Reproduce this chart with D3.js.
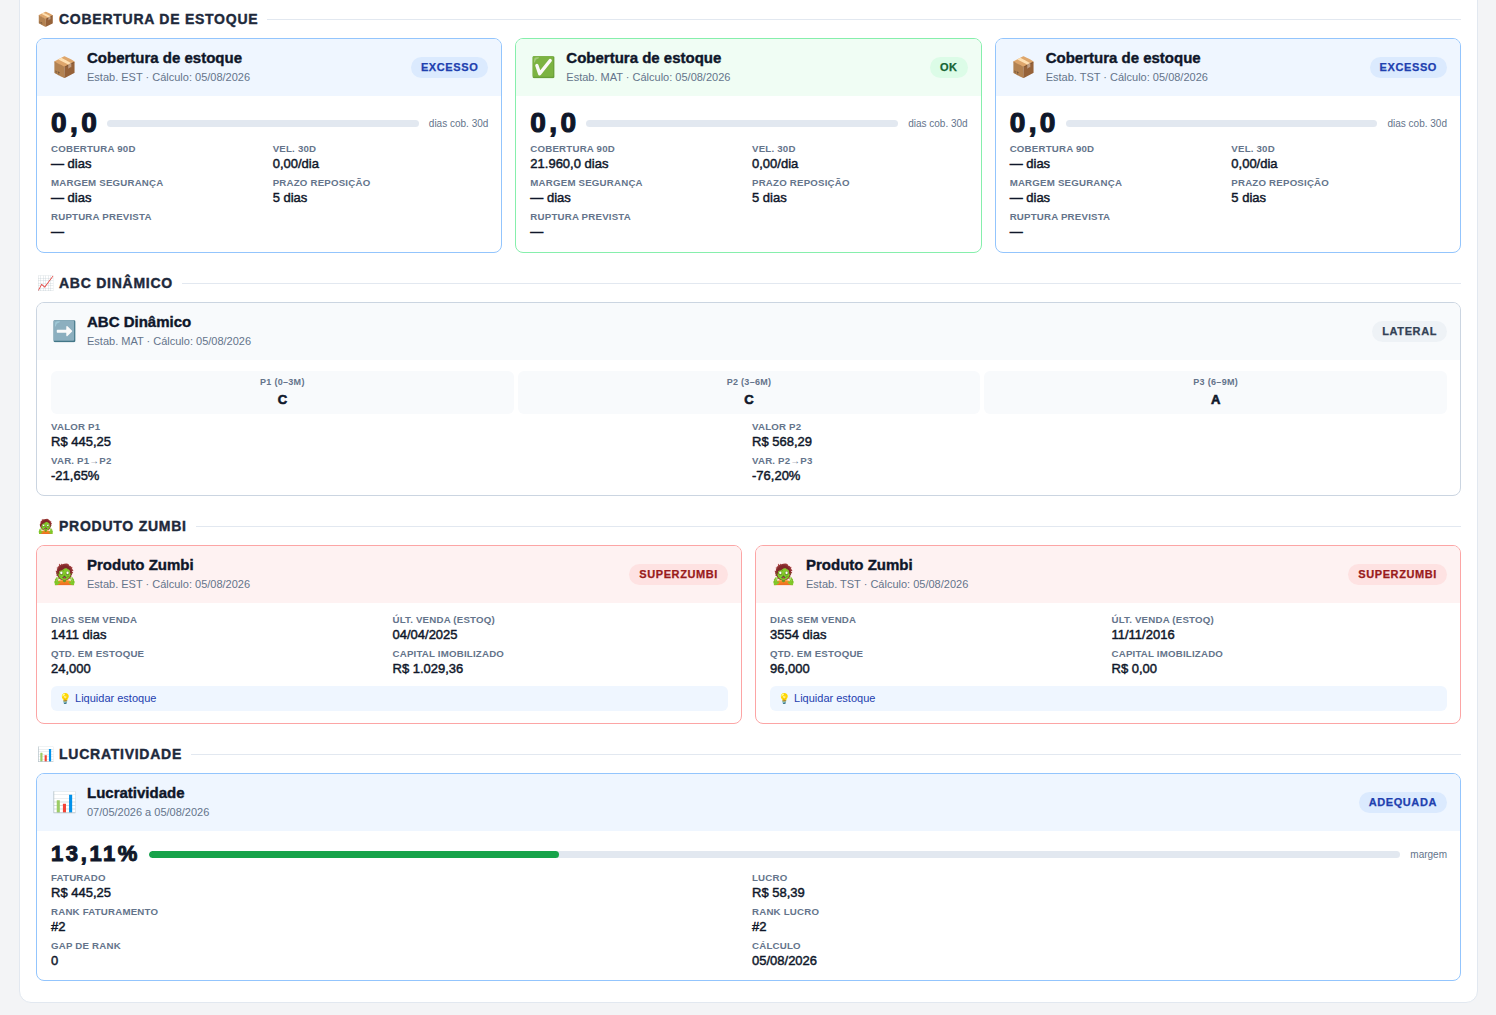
<!DOCTYPE html>
<html lang="pt-BR">
<head>
<meta charset="utf-8">
<title>Indicadores</title>
<script src="https://cdn.jsdelivr.net/npm/d3@7"></script>
<style>
  body { margin: 0; background: #f3f4f6; font-family: "Liberation Sans", Arial, sans-serif; color: #0f172a; }
  .wrap { position: absolute; left: 19px; top: -20px; width: 1459px; box-sizing: border-box; background: #fff;
          border: 1px solid #e2e8f0; border-radius: 12px; padding: 28px 16px 21px; }
  .section { margin-bottom: 20px; }
  .section:last-child { margin-bottom: 0; }
  .sec-h { display: flex; align-items: center; height: 20px; margin-bottom: 9px; }
  .sec-h .ic { width: 15px; font-size: 14px; margin-left: 1px; margin-right: 7px; line-height: 20px; }
  .sec-h .t { font-weight: bold; font-size: 14px; letter-spacing: .75px; color: #1e293b; -webkit-text-stroke: .4px #1e293b; }
  .sec-h .line { flex: 1; height: 1px; background: #e2e8f0; margin-left: 9px; }
  .row { display: flex; gap: 13px; }
  .row > .card { flex: 1; min-width: 0; }
  .card { border: 1px solid; border-radius: 8px; overflow: hidden; background: #fff; }
  .card-h { display: flex; align-items: center; padding: 10px 13px 12px 15px; }
  .card-h .ic { width: 24px; font-size: 20px; line-height: 24px; margin-right: 11px; text-align: center; }
  .card-h .tt { font-weight: bold; font-size: 15px; line-height: 18px; color: #0f172a; -webkit-text-stroke: .4px #0f172a; }
  .card-h .st { font-size: 11px; line-height: 14px; margin-top: 3px; color: #64748b; }
  .badge { margin-left: auto; margin-top: 2px; height: 21px; padding: 0 10px; border-radius: 11px;
           font-weight: bold; font-size: 11px; line-height: 21px; letter-spacing: .6px; -webkit-text-stroke: .25px currentColor; }
  .card-b { padding: 11px 13px 12px 14px; }
  .big { display: flex; align-items: center; height: 32px; }
  .big .v { font-weight: bold; font-size: 28px; letter-spacing: 3.4px; color: #0f172a; margin-right: 7px;
            -webkit-text-stroke: 1.2px #0f172a; }
  .bar { flex: 1; height: 7px; border-radius: 4px; background: #e2e8f0; overflow: hidden; }
  .bar .fill { height: 100%; border-radius: 4px; }
  .big .u { font-size: 10px; color: #64748b; margin-left: 10px; }
  .grid { display: grid; grid-template-columns: 1fr 1fr; column-gap: 6px; row-gap: 5px; }
  .lbl { font-weight: bold; font-size: 9.7px; line-height: 12px; color: #64748b; letter-spacing: .2px; text-transform: uppercase; }
  .val { font-size: 13px; line-height: 16px; margin-top: 1px; color: #0f172a; -webkit-text-stroke: .45px #0f172a; }
  .periods { display: flex; gap: 4px; }
  .period { flex: 1; background: #f8fafc; border-radius: 6px; padding: 5px 0 6px; text-align: center; }
  .period .pl { font-weight: bold; font-size: 9px; line-height: 12px; letter-spacing: .3px; color: #64748b; }
  .period .pc { font-weight: bold; font-size: 13px; line-height: 16px; margin-top: 4px; color: #0f172a; -webkit-text-stroke: .6px #0f172a; }
  .tip { margin-top: 9px; height: 25px; line-height: 25px; border-radius: 6px; background: #eff6ff; padding: 0 8px;
         font-size: 11px; color: #1e40af; }
  .tip .ti { font-size: 10px; margin-right: 1px; }
</style>
</head>
<body>
<div class="wrap" id="root"></div>
<script>
// cobertura de estoque, um card por estabelecimento
const coberturaEstab = ["EST", "MAT", "TST"];
const coberturaStatus = ["EXCESSO", "OK", "EXCESSO"];
const coberturaDias30 = [0, 0, 0];
const coberturaDias90 = [null, 21960, null];
const velocidade30 = [0, 0, 0];
const margemSeguranca = [null, null, null];
const prazoReposicao = [5, 5, 5];
const rupturaPrevista = [null, null, null];
const dataCalculo = "05/08/2026";

// abc dinamico
const abcEstab = "MAT";
const abcTendencia = "LATERAL";
const abcPeriodos = ["P1 (0–3M)", "P2 (3–6M)", "P3 (6–9M)"];
const abcClasses = ["C", "C", "A"];
const abcValores = [445.25, 568.29];
const abcVariacoes = [-21.65, -76.20];

// produto zumbi
const zumbiEstab = ["EST", "TST"];
const zumbiStatus = ["SUPERZUMBI", "SUPERZUMBI"];
const zumbiDiasSemVenda = [1411, 3554];
const zumbiUltVenda = ["04/04/2025", "11/11/2016"];
const zumbiQtd = [24, 96];
const zumbiCapital = [1029.36, 0];
const zumbiAcao = ["Liquidar estoque", "Liquidar estoque"];

// lucratividade
const lucroPeriodo = "07/05/2026 a 05/08/2026";
const lucroStatus = "ADEQUADA";
const lucroMargem = 13.11;
const lucroFaturado = 445.25;
const lucroValor = 58.39;
const lucroRankFat = 2;
const lucroRankLucro = 2;
const lucroGap = 0;

const loc = d3.formatLocale({ decimal: ",", thousands: ".", grouping: [3], currency: ["R$ ", ""], minus: "-" });
const brl = loc.format("$,.2f");
const f1 = loc.format(",.1f");
const f2 = loc.format(".2f");
const f3 = loc.format(",.3f");
const dash = "—";

const themes = {
  EXCESSO: { border: "#93c5fd", head: "#eff6ff", bb: "#dbeafe", bc: "#1e40af", icon: "📦" },
  OK: { border: "#86efac", head: "#f0fdf4", bb: "#dcfce7", bc: "#166534", icon: "✅" },
  LATERAL: { border: "#cbd5e1", head: "#f8fafc", bb: "#eef2f6", bc: "#334155", icon: "➡️" },
  SUPERZUMBI: { border: "#fca5a5", head: "#fef2f2", bb: "#fee2e2", bc: "#991b1b", icon: "🧟" },
  ADEQUADA: { border: "#93c5fd", head: "#eff6ff", bb: "#dbeafe", bc: "#1e40af", icon: "📊" }
};

const root = d3.select("#root");

const section = (icon, title) => {
  const s = root.append("div").attr("class", "section");
  const h = s.append("div").attr("class", "sec-h");
  h.append("span").attr("class", "ic").text(icon);
  h.append("span").attr("class", "t").text(title);
  h.append("span").attr("class", "line");
  return s;
};

const card = (parent, status, title, sub) => {
  const th = themes[status];
  const c = parent.append("div").attr("class", "card").style("border-color", th.border);
  const h = c.append("div").attr("class", "card-h").style("background", th.head);
  h.append("div").attr("class", "ic").text(th.icon);
  const tx = h.append("div");
  tx.append("div").attr("class", "tt").text(title);
  tx.append("div").attr("class", "st").text(sub);
  h.append("div").attr("class", "badge").style("background", th.bb).style("color", th.bc).text(status);
  return c.append("div").attr("class", "card-b");
};

const fields = (parent, items) => {
  const g = parent.append("div").attr("class", "grid");
  const cell = g.selectAll("div.cell").data(items).enter().append("div").attr("class", "cell");
  cell.append("div").attr("class", "lbl").text((d) => d[0]);
  cell.append("div").attr("class", "val").text((d) => d[1]);
  return g;
};

// ---- cobertura
const covScale = d3.scaleLinear().domain([0, 30]).range([0, 100]).clamp(true);
const s1 = section("📦", "COBERTURA DE ESTOQUE");
const r1 = s1.append("div").attr("class", "row");
coberturaEstab.forEach((est, i) => {
  const b = card(r1, coberturaStatus[i], "Cobertura de estoque", `Estab. ${est} · Cálculo: ${dataCalculo}`);
  const big = b.append("div").attr("class", "big");
  big.append("span").attr("class", "v").text(f1(coberturaDias30[i]));
  big.append("div").attr("class", "bar")
    .append("div").attr("class", "fill").style("background", "#16a34a")
    .style("width", covScale(coberturaDias30[i]) + "%");
  big.append("span").attr("class", "u").text("dias cob. 30d");
  fields(b, [
    ["Cobertura 90d", (coberturaDias90[i] == null ? dash : f1(coberturaDias90[i])) + " dias"],
    ["Vel. 30d", f2(velocidade30[i]) + "/dia"],
    ["Margem segurança", (margemSeguranca[i] == null ? dash : f1(margemSeguranca[i])) + " dias"],
    ["Prazo reposição", prazoReposicao[i] + " dias"],
    ["Ruptura prevista", rupturaPrevista[i] == null ? dash : rupturaPrevista[i]]
  ]).style("margin-top", "4px");
});

// ---- abc
const s2 = section("📈", "ABC DINÂMICO");
const b2 = card(s2, abcTendencia, "ABC Dinâmico", `Estab. ${abcEstab} · Cálculo: ${dataCalculo}`)
  .style("padding-bottom", "11px");
const per = b2.append("div").attr("class", "periods")
  .selectAll("div.period").data(abcPeriodos).enter().append("div").attr("class", "period");
per.append("div").attr("class", "pl").text((d) => d);
per.append("div").attr("class", "pc").text((d, i) => abcClasses[i]);
fields(b2, [
  ["Valor P1", brl(abcValores[0])],
  ["Valor P2", brl(abcValores[1])],
  ["Var. P1→P2", f2(abcVariacoes[0]) + "%"],
  ["Var. P2→P3", f2(abcVariacoes[1]) + "%"]
]).style("margin-top", "7px");

// ---- zumbi
const s3 = section("🧟", "PRODUTO ZUMBI");
const r3 = s3.append("div").attr("class", "row");
zumbiEstab.forEach((est, i) => {
  const b = card(r3, zumbiStatus[i], "Produto Zumbi", `Estab. ${est} · Cálculo: ${dataCalculo}`);
  fields(b, [
    ["Dias sem venda", zumbiDiasSemVenda[i] + " dias"],
    ["Últ. venda (estoq)", zumbiUltVenda[i]],
    ["Qtd. em estoque", f3(zumbiQtd[i])],
    ["Capital imobilizado", brl(zumbiCapital[i])]
  ]);
  const tip = b.append("div").attr("class", "tip");
  tip.append("span").attr("class", "ti").text("💡");
  tip.append("span").text(" " + zumbiAcao[i]);
});

// ---- lucratividade
const margemScale = d3.scaleLinear().domain([0, 40]).range([0, 100]).clamp(true);
const s4 = section("📊", "LUCRATIVIDADE");
const b4 = card(s4, lucroStatus, "Lucratividade", lucroPeriodo)
  .style("padding-top", "10px").style("padding-bottom", "11px");
const big4 = b4.append("div").attr("class", "big").style("height", "26px");
big4.append("span").attr("class", "v")
  .style("font-size", "22px").style("letter-spacing", "2.6px").style("margin-right", "9px")
  .style("-webkit-text-stroke", "1px #0f172a")
  .text(f2(lucroMargem) + "%");
big4.append("div").attr("class", "bar")
  .append("div").attr("class", "fill").style("background", "#16a34a")
  .style("width", margemScale(lucroMargem) + "%");
big4.append("span").attr("class", "u").text("margem");
fields(b4, [
  ["Faturado", brl(lucroFaturado)],
  ["Lucro", brl(lucroValor)],
  ["Rank faturamento", "#" + lucroRankFat],
  ["Rank lucro", "#" + lucroRankLucro],
  ["Gap de rank", lucroGap],
  ["Cálculo", dataCalculo]
]).style("margin-top", "5px");
</script>
</body>
</html>
